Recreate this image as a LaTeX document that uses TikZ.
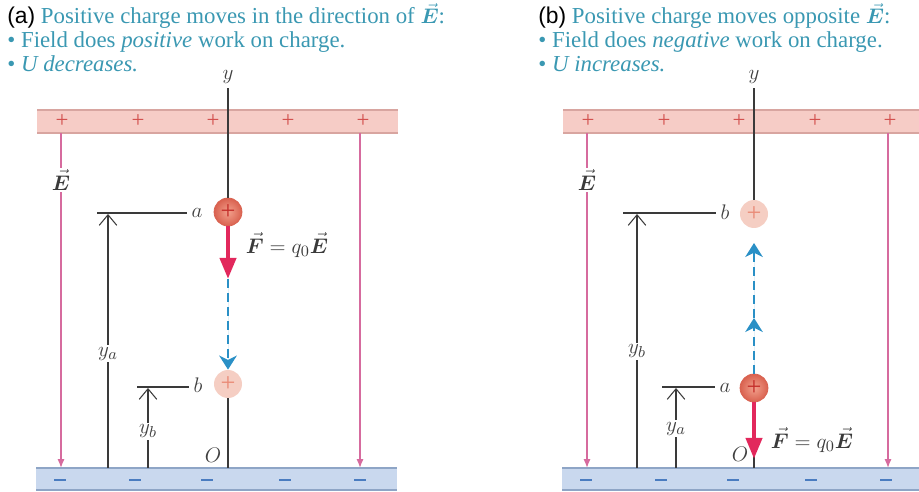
\documentclass[tikz,border=0pt]{standalone}
\usepackage{fontspec}
\setmainfont{Liberation Serif}
\newfontfamily\panelfont{Liberation Sans}
\usepackage{amsmath,bm}
\usetikzlibrary{arrows.meta,positioning,calc}
\definecolor{TitleTeal}{HTML}{3A98B2}
\definecolor{PlateRed}{HTML}{F6CCC6}
\definecolor{PlateRedEdge}{HTML}{D8A5A0}
\definecolor{PlusRed}{HTML}{D3504E}
\definecolor{PlateBlue}{HTML}{C9D8EE}
\definecolor{PlateBlueEdge}{HTML}{8EA5C6}
\definecolor{MinusBlue}{HTML}{4A7CC0}
\definecolor{FieldPink}{HTML}{D66B9E}
\definecolor{ForceRed}{HTML}{E2285C}
\definecolor{MoveBlue}{HTML}{2A90C6}
\definecolor{ChargeIn}{HTML}{F2A08C}
\definecolor{ChargeOut}{HTML}{D9614F}
\definecolor{ChargePlus}{HTML}{C42E2A}
\definecolor{GhostFill}{HTML}{F5CEC3}
\definecolor{GhostPlus}{HTML}{EA8A76}
\definecolor{AxisGray}{HTML}{3A3A3A}
\definecolor{LabelGray}{HTML}{404040}
\tikzset{
    % Caption text style
    titletext/.style={
        anchor=base west,
        inner sep=0pt,
        text=TitleTeal,
        font=\fontsize{13}{15}\selectfont
    },
    % Plate styles
    topplate/.style={fill=PlateRed},
    topedge/.style={draw=PlateRedEdge, line width=0.9pt},
    bottomplate/.style={fill=PlateBlue},
    bottomedge/.style={draw=PlateBlueEdge, line width=0.9pt},
    plussign/.style={
        inner sep=0pt,
        text=PlusRed,
        font=\fontsize{13}{13}\selectfont
    },
    minussign/.style={
        rectangle,
        inner sep=0pt,
        minimum width=0.24cm,
        minimum height=0.045cm,
        fill=MinusBlue
    },
    % Field line style
    fieldline/.style={
        -{Latex[length=5pt,width=4pt]},
        draw=FieldPink,
        line width=0.8pt
    },
    elabel/.style={
        fill=white,
        inner sep=1pt,
        text=AxisGray,
        font=\fontsize{13}{15}\selectfont
    },
    % Charge styles
    charge/.style={
        circle,
        minimum size=0.56cm,
        inner sep=0pt,
        shading=radial,
        inner color=ChargeIn,
        outer color=ChargeOut,
        draw=ChargeOut,
        line width=0.4pt,
        text=ChargePlus,
        font=\fontsize{15}{15}\selectfont
    },
    ghostcharge/.style={
        circle,
        minimum size=0.56cm,
        inner sep=0pt,
        fill=GhostFill,
        text=GhostPlus,
        font=\fontsize{15}{15}\selectfont
    },
    % Axis and marker styles
    axis/.style={draw=AxisGray, line width=0.7pt},
    ptlabel/.style={
        inner sep=2.5pt,
        text=LabelGray,
        font=\fontsize{13}{15}\selectfont
    },
    marker/.style={draw=AxisGray, line width=0.6pt},
    heightarrow/.style={
        -{Straight Barb[length=6pt,width=10pt]},
        draw=AxisGray,
        line width=0.6pt
    },
    hlabel/.style={
        fill=white,
        inner sep=1pt,
        text=LabelGray,
        font=\fontsize{13}{15}\selectfont
    },
    % Force and motion arrows
    forcearrow/.style={
        -{Triangle[length=12pt,width=9pt]},
        draw=ForceRed,
        fill=ForceRed,
        line width=2.6pt
    },
    movearrow/.style={
        -{Stealth[length=8pt,width=10pt,inset=2.5pt]},
        draw=MoveBlue,
        fill=MoveBlue,
        line width=1.5pt,
        dash pattern=on 5pt off 3pt
    },
    forcelabel/.style={
        inner sep=0pt,
        text=AxisGray,
        font=\fontsize{13}{15}\selectfont
    }
}

\begin{document}
\begin{tikzpicture}[x=0.02cm, y=-0.02cm]
    \useasboundingbox (0,0) rectangle (919,492);
    \clip (0,0) rectangle (919,492);

    % ---------- (a) ----------
    \node[titletext] (ta1) at (7,24) {{\panelfont\color{black}(a)} Positive charge moves in the direction of $\vec{\bm E}$:};
    \node[titletext] (ta2) at (7,48) {\textbullet\ Field does \textit{positive} work on charge.};
    \node[titletext] (ta3) at (7,72) {\textbullet\ \textit{U decreases.}};

    \fill[topplate] (37,110) rectangle (398,133);
    \draw[topedge] (37,110) -- (398,110) (37,133) -- (398,133);
    \fill[bottomplate] (36,468) rectangle (397,490);
    \draw[bottomedge] (36,468) -- (397,468) (36,490) -- (397,490);
    \foreach \sx [count=\i] in {62,138,213,288,363}
        \node[plussign] (pa\i) at (\sx,121) {+};
    \foreach \sx [count=\i] in {60,135,207,285,360}
        \node[minussign] (ma\i) at (\sx,480) {};

    \coordinate (ea1t) at (61,133);
    \coordinate (ea1b) at (61,468);
    \coordinate (ea2t) at (360,133);
    \coordinate (ea2b) at (360,468);
    \draw[fieldline] (ea1t) -- node[elabel, pos=0.14] (ea-lab) {$\vec{\bm E}$} (ea1b);
    \draw[fieldline] (ea2t) -- (ea2b);

    \node[charge] (qa) at (228,212) {+};
    \node[ghostcharge] (qb) at (228,384) {+};

    \node[ptlabel] (ylab-a) at (228,77) {$y$};
    \coordinate (oa) at (228,468);
    \draw[axis] (ylab-a) -- (qa.north);
    \draw[axis] (qb.south) -- (oa);
    \node[ptlabel] (olab-a) at (213,455) {$O$};

    \node[ptlabel] (alab-a) at (197,213) {$a$};
    \node[ptlabel] (blab-a) at (198,385) {$b$};
    \coordinate (aline-a) at (97,213);
    \coordinate (bline-a) at (137,387);
    \draw[marker] (aline-a) -- (aline-a -| alab-a.west);
    \draw[marker] (bline-a) -- (bline-a -| blab-a.west);
    \coordinate (ya-bot) at (108,468);
    \coordinate (ya-top) at (108,214);
    \coordinate (yb-bot) at (148,468);
    \coordinate (yb-top) at (148,388);
    \draw[heightarrow] (ya-bot) -- node[hlabel, pos=0.45] (ya-lab) {$y_a$} (ya-top);
    \draw[heightarrow] (yb-bot) -- node[hlabel, pos=0.46] (yb-lab) {$y_b$} (yb-top);

    \coordinate (fa-tip) at (228,279);
    \draw[forcearrow] (qa.south) -- (fa-tip);
    \draw[movearrow] (fa-tip) -- (qb.north);
    \node[forcelabel] (flab-a) at (287,245) {$\vec{\bm F} = q_0\vec{\bm E}$};

    % ---------- (b) ----------
    \node[titletext] (tb1) at (538,24) {{\panelfont\color{black}(b)} Positive charge moves opposite $\vec{\bm E}$:};
    \node[titletext] (tb2) at (538,48) {\textbullet\ Field does \textit{negative} work on charge.};
    \node[titletext] (tb3) at (538,72) {\textbullet\ \textit{U increases.}};

    \fill[topplate] (563,110) rectangle (925,133);
    \draw[topedge] (563,110) -- (925,110) (563,133) -- (925,133);
    \fill[bottomplate] (562,468) rectangle (925,490);
    \draw[bottomedge] (562,468) -- (925,468) (562,490) -- (925,490);
    \foreach \sx [count=\i] in {588,664,739,815,890}
        \node[plussign] (pb\i) at (\sx,121) {+};
    \foreach \sx [count=\i] in {586,661,733,811,886}
        \node[minussign] (mb\i) at (\sx,480) {};

    \coordinate (eb1t) at (587,133);
    \coordinate (eb1b) at (587,468);
    \coordinate (eb2t) at (888,133);
    \coordinate (eb2b) at (888,468);
    \draw[fieldline] (eb1t) -- node[elabel, pos=0.14] (eb-lab) {$\vec{\bm E}$} (eb1b);
    \draw[fieldline] (eb2t) -- (eb2b);

    \node[ghostcharge] (qbb) at (754,214) {+};
    \node[charge] (qab) at (754,388) {+};

    \node[ptlabel] (ylab-b) at (754,77) {$y$};
    \coordinate (ob) at (754,468);
    \draw[axis] (ylab-b) -- (qbb.north);
    \draw[axis] (qab.south) -- (ob);
    \node[ptlabel] (olab-b) at (740,454) {$O$};

    \node[ptlabel] (blab-b) at (725,212) {$b$};
    \node[ptlabel] (alab-b) at (725,388) {$a$};
    \coordinate (bline-b) at (623,213);
    \coordinate (aline-b) at (662,387);
    \draw[marker] (bline-b) -- (bline-b -| blab-b.west);
    \draw[marker] (aline-b) -- (aline-b -| alab-b.west);
    \coordinate (yb2-bot) at (637,468);
    \coordinate (yb2-top) at (637,214);
    \coordinate (ya2-bot) at (676,468);
    \coordinate (ya2-top) at (676,388);
    \draw[heightarrow] (yb2-bot) -- node[hlabel, pos=0.46] (yb2-lab) {$y_b$} (yb2-top);
    \draw[heightarrow] (ya2-bot) -- node[hlabel, pos=0.49] (ya2-lab) {$y_a$} (ya2-top);

    \coordinate (fb-tip) at (754,459);
    \coordinate (db-mid) at (754,318);
    \coordinate (db-top) at (754,243);
    \draw[forcearrow] (qab.south) -- (fb-tip);
    \draw[movearrow] (qab.north) -- (db-mid);
    \draw[movearrow] (db-mid) -- (db-top);
    \node[forcelabel] (flab-b) at (812,440) {$\vec{\bm F} = q_0\vec{\bm E}$};
\end{tikzpicture}
\end{document}
